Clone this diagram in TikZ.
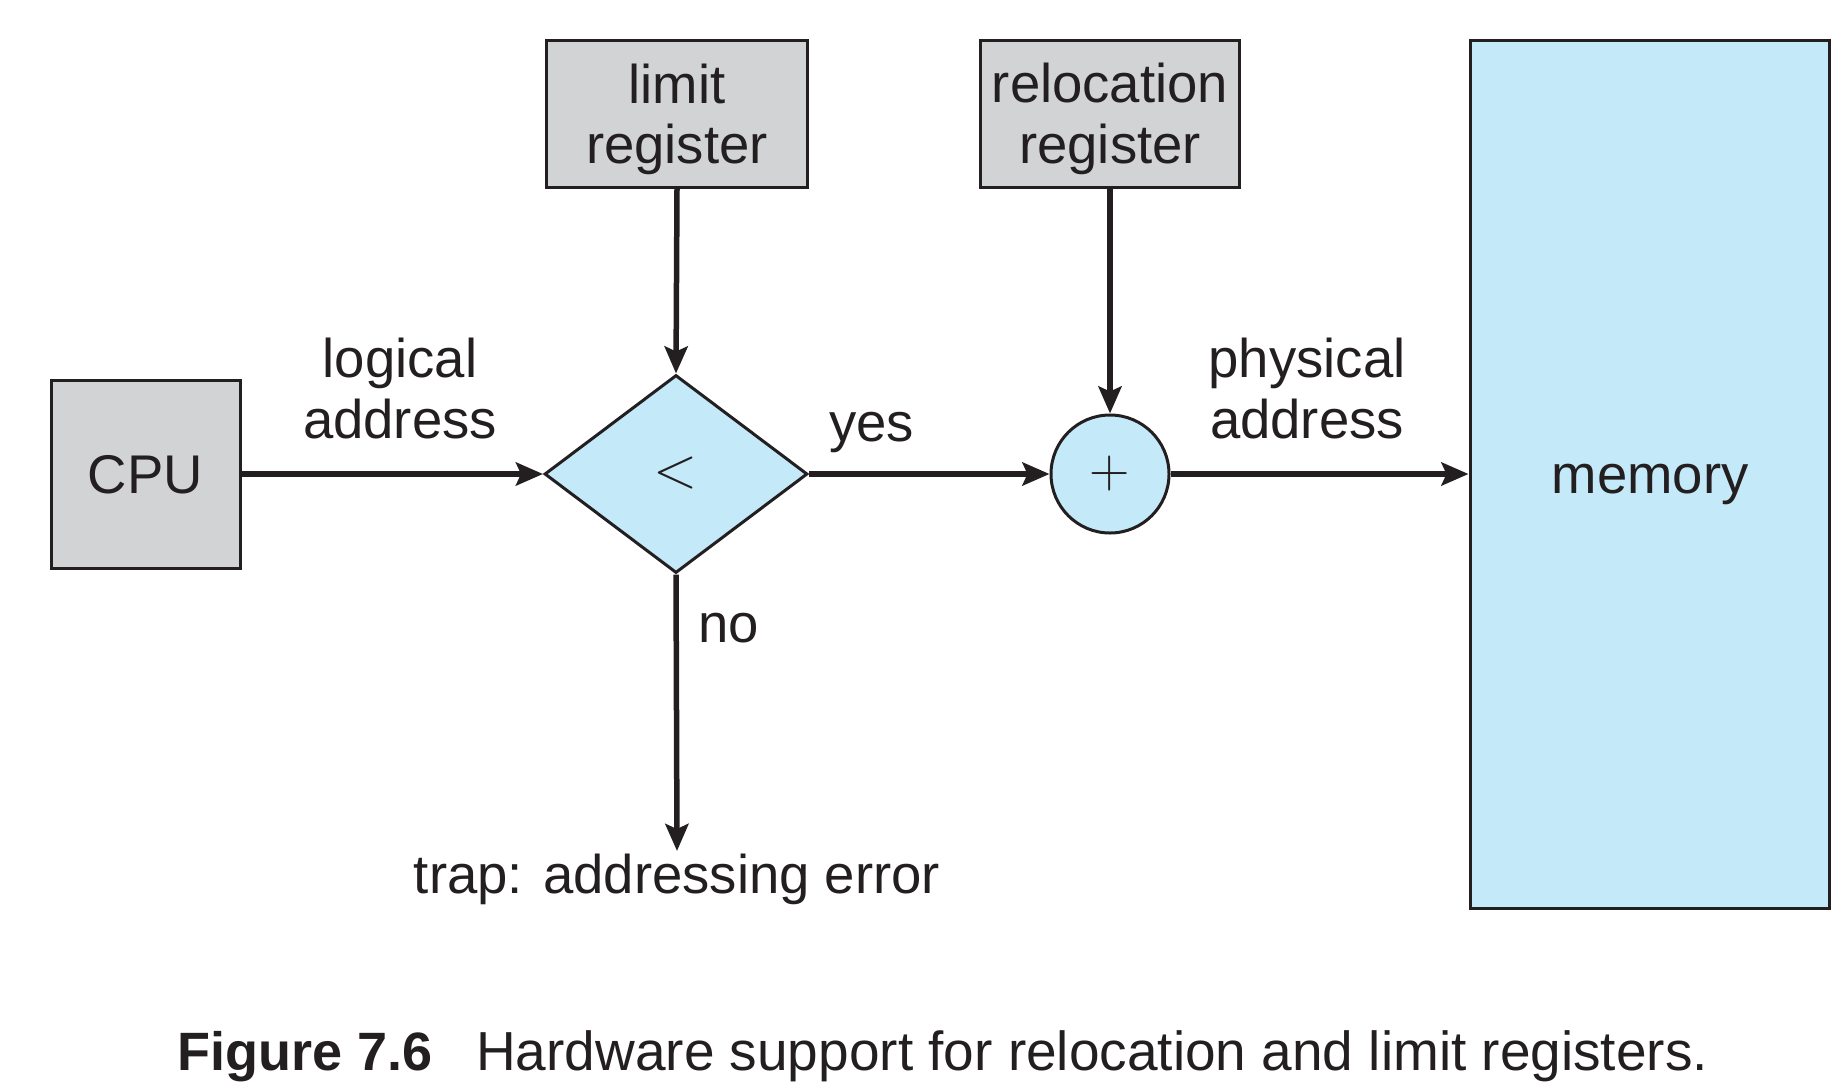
\documentclass[tikz,border=0pt]{standalone}
\usepackage{fontspec}
\setmainfont{Liberation Sans}
\usetikzlibrary{shapes.geometric,arrows.meta}
\definecolor{boxgray}{HTML}{D1D3D4}
\definecolor{memblue}{HTML}{C4E9F9}
\definecolor{ink}{HTML}{231F20}
\newcommand\lmsym{\fontfamily{lmr}\selectfont}
\tikzset{
  graybox/.style={rectangle, draw=ink, line width=3pt, fill=boxgray, inner sep=0pt},
  bluebox/.style={rectangle, draw=ink, line width=3pt, fill=memblue, inner sep=0pt},
  lbl/.style={anchor=base, inner sep=0pt, text=ink, font=\fontsize{54.5}{60}\selectfont},
  conn/.style={draw=ink, line width=5.5pt, -{Stealth[length=27pt,width=23pt,inset=5pt]}},
}
\begin{document}
\begin{tikzpicture}[x=1pt,y=-1pt]
\useasboundingbox (0,0) rectangle (1846,1090);
% shapes
\node[graybox, minimum width=189pt, minimum height=188pt] (cpu) at (145.5,474) {};
\node[graybox, minimum width=261pt, minimum height=147pt] (limit) at (677,113.5) {};
\node[graybox, minimum width=259pt, minimum height=147pt] (reloc) at (1110,113.5) {};
\node[bluebox, minimum width=359pt, minimum height=868pt] (mem) at (1649.5,474) {};
\node[diamond, draw=ink, line width=3pt, fill=memblue, inner sep=0pt,
      minimum width=263pt, minimum height=198pt, text=ink,
      font=\lmsym\fontsize{58}{60}\selectfont] (cmp) at (676,474) {\raisebox{3pt}{<}};
\node[circle, draw=ink, line width=3pt, fill=memblue, inner sep=0pt,
      minimum size=118pt, text=ink,
      font=\lmsym\fontsize{56}{60}\selectfont] (add) at (1110,474) {+};
% texts
\node[lbl] (tlimit1) at (677,103) {limit};
\node[lbl] (tlimit2) at (677,163) {register};
\node[lbl] (treloc1) at (1110,102) {relocation};
\node[lbl] (treloc2) at (1110,163) {register};
\node[lbl] (tcpu) at (145.5,493) {CPU};
\node[lbl] (tmem) at (1650,493) {memory};
\node[lbl] (tlog1) at (400,377) {logical};
\node[lbl] (tlog2) at (400,438) {address};
\node[lbl] (tphy1) at (1307,377) {physical};
\node[lbl] (tphy2) at (1307,438) {address};
\node[lbl, anchor=base west] (tyes) at (829,441) {yes};
\node[lbl, anchor=base west] (tno) at (698,642) {no};
\node[lbl] (ttrap) at (677,893) {trap: addressing error};
\node[lbl, anchor=base west, font=\fontsize{55}{60}\selectfont] (cap) at (177,1070)
  {{\fontsize{54}{60}\selectfont\bfseries Figure 7.6}\hspace{44pt}Hardware support for relocation and limit registers.};
% connectors
\coordinate (trapend) at (677,851);
\draw[conn] (cpu.east) -- (cmp.west);
\draw[conn] (limit.south) -- (cmp.north);
\draw[conn] (cmp.east) -- (add.west);
\draw[conn] (reloc.south) -- (add.north);
\draw[conn] (add.east) -- (mem.west);
\draw[conn] (cmp.south) -- (trapend);
\end{tikzpicture}
\end{document}
